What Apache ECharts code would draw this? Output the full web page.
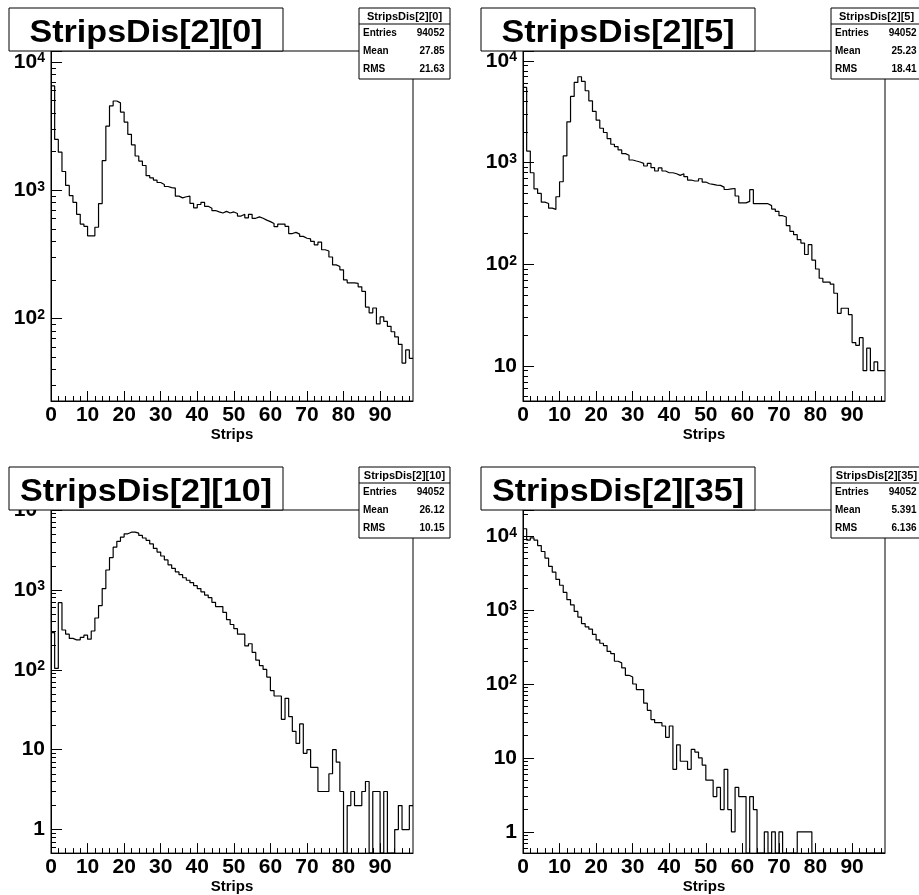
<!DOCTYPE html>
<html>
<head>
<meta charset="utf-8">
<script src="https://cdn.jsdelivr.net/npm/echarts@6/dist/echarts.min.js"></script>
<style>
  html, body { margin: 0; padding: 0; background: #fff; }
  #chart { width: 919px; height: 895px; }
</style>
</head>
<body>
<div id="chart"></div>
<script>
// lower edge of each strip bin (99 bins, 0..99)
const binEdges = [
  0, 1, 2, 3, 4, 5, 6, 7, 8, 9, 10, 11, 12, 13, 14, 15, 16, 17, 18, 19,
  20, 21, 22, 23, 24, 25, 26, 27, 28, 29, 30, 31, 32, 33, 34, 35, 36, 37, 38, 39,
  40, 41, 42, 43, 44, 45, 46, 47, 48, 49, 50, 51, 52, 53, 54, 55, 56, 57, 58, 59,
  60, 61, 62, 63, 64, 65, 66, 67, 68, 69, 70, 71, 72, 73, 74, 75, 76, 77, 78, 79,
  80, 81, 82, 83, 84, 85, 86, 87, 88, 89, 90, 91, 92, 93, 94, 95, 96, 97, 98
]
const xMax = 99

// counts per bin
const strips00 = [
  6500, 2490, 1980, 1400, 1090, 910, 805, 650, 545, 524,
  442, 442, 515, 788, 1700, 3160, 4550, 4960, 4800, 4070,
  3400, 2730, 2260, 1850, 1690, 1560, 1300, 1250, 1200, 1150,
  1110, 1070, 1050, 1040, 900, 873, 890, 900, 790, 730,
  775, 805, 750, 725, 695, 678, 665, 685, 665, 678,
  660, 630, 650, 610, 650, 605, 620, 605, 585, 570,
  550, 520, 545, 545, 524, 460, 470, 455, 437, 423,
  418, 400, 376, 395, 344, 336, 302, 262, 255, 240,
  200, 190, 190, 188, 177, 163, 123, 111, 121, 91,
  103, 95, 87, 79, 72, 63, 45, 57, 49
]
const strips05 = [
  5500, 1300, 796, 553, 498, 409, 397, 357, 347, 462,
  649, 1164, 2520, 4480, 6150, 7000, 6300, 5100, 4060, 3190,
  2620, 2180, 1980, 1727, 1518, 1440, 1334, 1227, 1181, 1062,
  1038, 1015, 985, 927, 985, 893, 828, 888, 828, 796,
  796, 778, 750, 778, 728, 675, 660, 660, 695, 645,
  620, 611, 602, 598, 575, 545, 553, 557, 470, 402,
  402, 416, 542, 395, 395, 395, 395, 378, 350, 332,
  301, 292, 240, 211, 196, 175, 162, 125, 156, 110,
  90, 73, 67, 67, 64, 52, 33, 37, 37, 32,
  17, 16, 19, 9, 15, 9, 11, 9, 9
]
const strips10 = [
  292, 104, 693, 315, 279, 247, 237, 237, 254, 271,
  242, 306, 445, 637, 1038, 1775, 2537, 3425, 4060, 4585,
  5035, 5275, 5275, 5130, 4810, 4460, 4170, 3765, 3300, 2975,
  2656, 2375, 2062, 1860, 1680, 1550, 1420, 1320, 1230, 1130,
  1040, 945, 861, 800, 700, 619, 619, 523, 425, 369,
  327, 279, 279, 199, 212, 165, 132, 113, 101, 81,
  55, 47, 47, 24, 44, 26, 17, 12, 21, 9,
  10, 6, 6, 3, 3, 3, 5, 10, 7, 3,
  0, 2, 3, 2, 2, 3, 4, 0, 3, 3,
  0, 3, 0, 0, 1, 2, 1, 1, 2
]
const strips35 = [
  12600, 8850, 9500, 8850, 7450, 6200, 5050, 3910, 3260, 2600,
  2166, 1731, 1382, 1175, 958, 805, 657, 593, 552, 469,
  394, 356, 331, 276, 257, 203, 193, 165, 131, 124,
  100, 84, 84, 55, 44, 33, 30, 30, 27, 19,
  27, 7, 15, 9, 9, 7, 13, 12, 10, 8,
  5, 5, 3, 4, 2, 7, 2, 1, 4, 3,
  3, 0, 3, 2, 0, 0, 1, 0, 1, 0,
  1, 0, 0, 0, 0, 1, 1, 1, 1, 0,
  0, 0, 0, 0, 0, 0, 0, 0, 0, 0,
  0, 0, 0, 0, 0, 0, 0, 0, 0
]

// stats box contents
const titles = ['StripsDis[2][0]', 'StripsDis[2][5]', 'StripsDis[2][10]', 'StripsDis[2][35]']
const entries = ['94052', '94052', '94052', '94052']
const means = ['27.85', '25.23', '26.12', '5.391']
const rmsValues = ['21.63', '18.41', '10.15', '6.136']

// tick labels
const xTickLabels = [0, 10, 20, 30, 40, 50, 60, 70, 80, 90]
const yTickLabels = [1, 10, 100, 1000, 10000]

// pad layout (pixels) and log y range of each pad
const pads = [
  { data: strips00, left: 51, top: 51, yMin: 22.8, yMax: 12170 },
  { data: strips05, left: 523, top: 51, yMin: 4.53, yMax: 12540 },
  { data: strips10, left: 51, top: 510, yMin: 0.508, yMax: 10000 },
  { data: strips35, left: 523, top: 510, yMin: 0.515, yMax: 22600 }
]
const padW = 362
const padH = 350
const FONT = '"Liberation Sans", Arial, Helvetica, sans-serif'

// minor ticks on x: every 2 strips
const xMinorTicks = []
for (let v = 2; v < xMax; v += 2) if (v % 10) xMinorTicks.push(v)

// y ticks for the helper axis (log10 units): 2..9 x 10^n
const logMinorTicks = (lo, hi) => {
  const out = []
  for (let n = -1; n <= 4; n++) {
    for (let k = 2; k <= 9; k++) {
      const v = k * Math.pow(10, n)
      if (v > lo && v < hi) out.push(Math.log10(v))
    }
  }
  return out
}

const yLabel = (v) => {
  const lg = Math.log10(v)
  const e = Math.round(lg)
  if (Math.abs(lg - e) > 1e-6 || yTickLabels.indexOf(Math.pow(10, e)) < 0) return ''
  if (e === 0) return '{b|1}'
  if (e === 1) return '{b|10}'
  return '{b|10}{s|' + e + '}'
}

const grid = [], xAxis = [], yAxis = [], series = [], graphic = []

pads.forEach((p, i) => {
  grid.push({
    left: p.left, top: p.top, width: padW, height: padH,
    show: true, borderColor: '#000', borderWidth: 1, backgroundColor: 'transparent'
  })
  // main x axis
  xAxis.push({
    gridIndex: i, type: 'value', min: 0, max: xMax, position: 'bottom',
    axisLine: { onZero: false, lineStyle: { color: '#000', width: 1 } },
    axisTick: { inside: true, length: 10, customValues: xTickLabels, lineStyle: { color: '#000' } },
    axisLabel: {
      customValues: xTickLabels, color: '#000', fontSize: 21, fontWeight: 'bold',
      fontFamily: FONT, margin: 4
    },
    splitLine: { show: false },
    name: 'Strips', nameLocation: 'middle', nameGap: 21,
    nameTextStyle: { color: '#000', fontSize: 15, fontWeight: 'bold', fontFamily: FONT }
  })
  // minor x ticks
  xAxis.push({
    gridIndex: i, type: 'value', min: 0, max: xMax, position: 'bottom', offset: 0,
    axisLine: { show: false, onZero: false },
    axisTick: { inside: true, length: 5, customValues: xMinorTicks, lineStyle: { color: '#000' } },
    axisLabel: { show: false },
    splitLine: { show: false }
  })
  // main log y axis
  yAxis.push({
    gridIndex: i, type: 'log', logBase: 10, min: p.yMin, max: p.yMax, position: 'left',
    axisLine: { show: true, onZero: false, lineStyle: { color: '#000', width: 1 } },
    axisTick: { inside: true, length: 11, lineStyle: { color: '#000' } },
    axisLabel: {
      formatter: yLabel, showMinLabel: true, showMaxLabel: true, margin: 6,
      rich: {
        b: { fontSize: 21, fontWeight: 'bold', fontFamily: FONT, color: '#000' },
        s: { fontSize: 14, fontWeight: 'bold', fontFamily: FONT, color: '#000', verticalAlign: 'top' }
      }
    },
    splitLine: { show: false }
  })
  // minor y ticks (2..9 per decade) on a helper axis in log10 units
  yAxis.push({
    gridIndex: i, type: 'value', min: Math.log10(p.yMin), max: Math.log10(p.yMax),
    position: 'left', offset: 0,
    axisLine: { show: false, onZero: false },
    axisTick: { inside: true, length: 5, customValues: logMinorTicks(p.yMin, p.yMax), lineStyle: { color: '#000' } },
    axisLabel: { show: false },
    splitLine: { show: false }
  })
  // histogram outline: empty bins drop to the pad floor
  const pts = p.data.map((c, k) => [binEdges[k], c > 0 ? c : p.yMin])
  pts.push([xMax, pts[pts.length - 1][1]])
  series.push({
    type: 'line', xAxisIndex: 2 * i, yAxisIndex: 2 * i, step: 'end',
    symbol: 'none', data: pts, clip: true, silent: true,
    lineStyle: { color: '#000', width: 1.2 }, z: 5
  })

  // title box
  const tx = p.left - 42
  const ty = p.top - 43
  graphic.push({
    type: 'rect', z: 100,
    shape: { x: tx, y: ty, width: 274, height: 43 },
    style: { fill: '#fff', stroke: '#000', lineWidth: 1 }
  })
  graphic.push({
    type: 'text', z: 101, x: tx + 137, y: ty + 25, scaleX: 1.1,
    style: {
      text: titles[i], fill: '#000', font: 'bold 31px ' + FONT,
      align: 'center', verticalAlign: 'middle', textAlign: 'center', textVerticalAlign: 'middle'
    }
  })

  // stats box
  const sx = p.left + padW - 54
  const sy = p.top - 43
  graphic.push({
    type: 'rect', z: 100,
    shape: { x: sx, y: sy, width: 91, height: 71 },
    style: { fill: '#fff', stroke: '#000', lineWidth: 1 }
  })
  graphic.push({
    type: 'line', z: 101,
    shape: { x1: sx, y1: sy + 16, x2: sx + 91, y2: sy + 16 },
    style: { stroke: '#000', lineWidth: 1 }
  })
  graphic.push({
    type: 'text', z: 102, x: sx + 45.5, y: sy + 8.5,
    style: {
      text: titles[i], fill: '#000', font: 'bold 11px ' + FONT,
      align: 'center', verticalAlign: 'middle', textAlign: 'center', textVerticalAlign: 'middle'
    }
  })
  const rows = [['Entries', entries[i]], ['Mean', means[i]], ['RMS', rmsValues[i]]]
  rows.forEach((r, k) => {
    graphic.push({
      type: 'text', z: 102, x: sx + 4, y: sy + 25.5 + 18 * k,
      style: {
        text: r[0], fill: '#000', font: 'bold 10px ' + FONT,
        align: 'left', verticalAlign: 'middle', textAlign: 'left', textVerticalAlign: 'middle'
      }
    })
    graphic.push({
      type: 'text', z: 102, x: sx + 85.5, y: sy + 25.5 + 18 * k,
      style: {
        text: r[1], fill: '#000', font: 'bold 10px ' + FONT,
        align: 'right', verticalAlign: 'middle', textAlign: 'right', textVerticalAlign: 'middle'
      }
    })
  })
})

const chart = echarts.init(document.getElementById('chart'), null, { renderer: 'canvas' })
chart.setOption({
  backgroundColor: '#fff',
  animation: false,
  grid, xAxis, yAxis, series, graphic
})
</script>
</body>
</html>
